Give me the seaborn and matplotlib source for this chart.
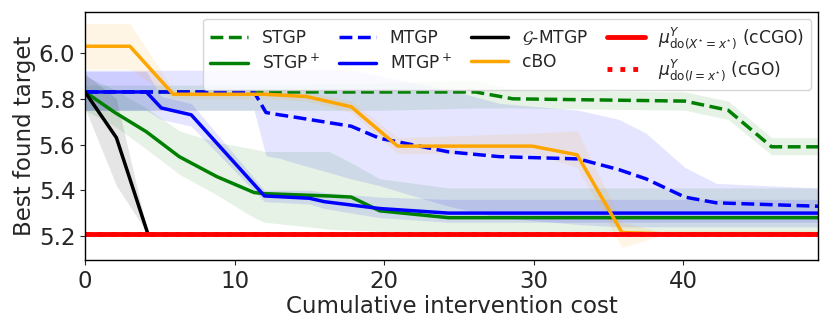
import numpy as np
import pandas as pd
import matplotlib
matplotlib.use("Agg")
import matplotlib.pyplot as plt
import seaborn as sns

# ---- data ----
stgp_x = [0, 12, 20, 26.1, 28.6, 40.1, 43, 45.9, 49]
stgp_y = [5.83, 5.83, 5.83, 5.83, 5.80, 5.79, 5.75, 5.59, 5.59]
stgp_lo = [5.75, 5.75, 5.75, 5.76, 5.76, 5.75, 5.71, 5.555, 5.555]
stgp_hi = [5.86, 5.86, 5.87, 5.88, 5.84, 5.83, 5.79, 5.63, 5.63]

stgpp_x = [0, 2, 4.1, 6.3, 8.8, 11.3, 12, 16.3, 17.8, 19.7, 24.3, 49]
stgpp_y = [5.83, 5.74, 5.656, 5.547, 5.46, 5.39, 5.385, 5.375, 5.37, 5.31, 5.28, 5.28]
stgpp_lo = [5.75, 5.68, 5.58, 5.47, 5.38, 5.28, 5.26, 5.23, 5.225, 5.22, 5.215, 5.215]
stgpp_hi = [5.90, 5.84, 5.76, 5.66, 5.61, 5.58, 5.57, 5.57, 5.52, 5.45, 5.41, 5.41]

mtgp_x = [0, 11.3, 12.1, 13, 14, 17.8, 19.7, 21.2, 24.3, 27.7, 33, 35.7, 37.5, 40.1, 42.2, 49]
mtgp_y = [5.83, 5.83, 5.74, 5.73, 5.72, 5.68, 5.627, 5.608, 5.568, 5.547, 5.537, 5.49, 5.45, 5.37, 5.345, 5.33]
mtgp_lo = [5.75, 5.75, 5.55, 5.54, 5.52, 5.45, 5.42, 5.39, 5.33, 5.28, 5.25, 5.24, 5.24, 5.24, 5.24, 5.24]
mtgp_hi = [5.925, 5.925, 5.925, 5.925, 5.925, 5.925, 5.90, 5.88, 5.84, 5.78, 5.75, 5.71, 5.65, 5.50, 5.43, 5.41]

mtgpp_x = [0, 4.1, 5.1, 7.1, 12, 15, 16, 19.7, 24.3, 49]
mtgpp_y = [5.83, 5.83, 5.76, 5.73, 5.375, 5.365, 5.35, 5.32, 5.30, 5.30]
mtgpp_lo = [5.75, 5.75, 5.71, 5.68, 5.35, 5.34, 5.32, 5.28, 5.26, 5.26]
mtgpp_hi = [5.92, 5.92, 5.81, 5.78, 5.40, 5.40, 5.39, 5.37, 5.36, 5.36]

gm_x = [0, 2.1, 4.2]
gm_y = [5.83, 5.63, 5.21]
gm_lo = [5.76, 5.42, 5.21]
gm_hi = [5.91, 5.80, 5.21]

cbo_x = [0, 3, 5.9, 12, 14.8, 17.8, 20.9, 29.9, 32.9, 35.9, 38.4, 49]
cbo_y = [6.03, 6.03, 5.82, 5.82, 5.81, 5.765, 5.593, 5.593, 5.555, 5.215, 5.21, 5.21]
cbo_lo = [5.93, 5.93, 5.80, 5.80, 5.79, 5.74, 5.56, 5.56, 5.50, 5.15, 5.20, 5.20]
cbo_hi = [6.13, 6.13, 5.84, 5.84, 5.83, 5.79, 5.63, 5.65, 5.66, 5.26, 5.22, 5.22]

ccgo_value = 5.21
cgo_value = 5.21

labels = {
    "STGP": "STGP",
    "STGP+": r"STGP$^+$",
    "MTGP": "MTGP",
    "MTGP+": r"MTGP$^+$",
    "GMTGP": r"$\mathcal{G}$-MTGP",
    "cBO": "cBO",
    "cCGO": r"$\mu^{Y}_{\mathrm{do}(X^{\star}=x^{\star})}$ (cCGO)",
    "cGO": r"$\mu^{Y}_{\mathrm{do}(I=x^{\star})}$ (cGO)",
}

sns.set_style("ticks")
plt.rcParams["font.family"] = ["DejaVu Sans"]

fig = plt.figure(figsize=(8.3, 3.32), dpi=100)
ax = fig.add_axes([0.1024, 0.217, 0.8831, 0.747])

series = [
    ("STGP", stgp_x, stgp_y, stgp_lo, stgp_hi, "green", "--"),
    ("STGP+", stgpp_x, stgpp_y, stgpp_lo, stgpp_hi, "green", "-"),
    ("MTGP", mtgp_x, mtgp_y, mtgp_lo, mtgp_hi, "blue", "--"),
    ("MTGP+", mtgpp_x, mtgpp_y, mtgpp_lo, mtgpp_hi, "blue", "-"),
    ("GMTGP", gm_x, gm_y, gm_lo, gm_hi, "black", "-"),
    ("cBO", cbo_x, cbo_y, cbo_lo, cbo_hi, "orange", "-"),
]

for key, x, y, lo, hi, col, ls in series:
    ax.fill_between(x, lo, hi, color=col, alpha=0.1, linewidth=0)
    sns.lineplot(x=x, y=y, ax=ax, color=col, linestyle=ls, linewidth=2.5,
                 label=labels[key])

ax.axhline(ccgo_value, color="red", linewidth=3.5, linestyle="-", label=labels["cCGO"])
ax.axhline(cgo_value, color="red", linewidth=3.5, linestyle=":", label=labels["cGO"])

ax.set_xlim(0, 49)
ax.set_ylim(5.095, 6.18)
ax.set_xticks([0, 10, 20, 30, 40])
ax.set_yticks([5.2, 5.4, 5.6, 5.8, 6.0])
ax.tick_params(labelsize=16.5)
ax.set_xlabel("Cumulative intervention cost", fontsize=16.5, labelpad=2)
ax.set_ylabel("Best found target", fontsize=16.5, labelpad=2)
for s in ax.spines.values():
    s.set_color("black")
    s.set_linewidth(1)

h, l = ax.get_legend_handles_labels()
ax.legend(h, l, ncol=4, loc="upper right", fontsize=12.3, frameon=True,
          columnspacing=1.1, handlelength=2.2, borderaxespad=0.4,
          labelspacing=0.35)

fig.savefig("out.png", dpi=100)
